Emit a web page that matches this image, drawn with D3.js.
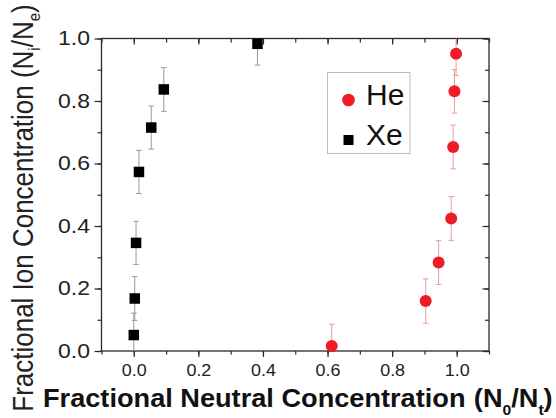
<!DOCTYPE html>
<html>
<head>
<meta charset="utf-8">
<script src="https://cdn.jsdelivr.net/npm/d3@7/dist/d3.min.js"></script>
<style>
  html, body { margin: 0; padding: 0; background: #fff; }
  svg { display: block; font-family: "Liberation Sans", Arial, sans-serif; }
</style>
</head>
<body>
<svg id="chart" width="556" height="418"></svg>
<script>
// ---- data ----
const xTickLabels = [0.0, 0.2, 0.4, 0.6, 0.8, 1.0];
const yTickLabels = [0.0, 0.2, 0.4, 0.6, 0.8, 1.0];
const xMinorTicks = [-0.1, 0.0, 0.1, 0.2, 0.3, 0.4, 0.5, 0.6, 0.7, 0.8, 0.9, 1.0, 1.1];
const yMinorTicks = [0.0, 0.1, 0.2, 0.3, 0.4, 0.5, 0.6, 0.7, 0.8, 0.9, 1.0];

const xeX   = [0.000, 0.003, 0.007, 0.016, 0.054, 0.093, 0.383];
const xeY   = [0.051, 0.168, 0.346, 0.573, 0.715, 0.837, 0.983];
const xeErr = [0.070, 0.070, 0.069, 0.069, 0.069, 0.070, 0.068];

const heX   = [0.613, 0.904, 0.944, 0.983, 0.989, 0.993, 0.998];
const heY   = [0.016, 0.160, 0.283, 0.424, 0.653, 0.831, 0.951];
const heErr = [0.070, 0.071, 0.070, 0.070, 0.070, 0.070, 0.069];

const seriesNames = ["He", "Xe"];

// ---- layout ----
const L = 101.5, R = 489, T = 38.5, B = 351;
const svg = d3.select("#chart");
const x = d3.scaleLinear().domain([-0.1, 1.1]).range([L, R]);
const y = d3.scaleLinear().domain([0, 1]).range([B, T]);

const axisColor = "#2a2a2a";

svg.append("defs").append("clipPath").attr("id", "plotclip")
  .append("rect").attr("x", L).attr("y", T).attr("width", R - L).attr("height", B - T);

function styleAxis(g) {
  g.select(".domain").remove();
  g.selectAll(".tick line").attr("stroke", axisColor).attr("stroke-width", 1.2);
}

// bottom axis
svg.append("g").attr("transform", `translate(0,${B})`)
  .call(d3.axisBottom(x).tickValues(xMinorTicks).tickSize(3.5).tickFormat(""))
  .call(styleAxis);
const xb = svg.append("g").attr("transform", `translate(0,${B})`)
  .call(d3.axisBottom(x).tickValues(xTickLabels).tickSize(6).tickPadding(8).tickFormat(d3.format(".1f")))
  .call(styleAxis);
xb.selectAll(".tick text").attr("fill", "#222").attr("font-size", 16)
  .attr("font-family", "Liberation Sans, Arial, sans-serif")
  .attr("transform", "scale(1.12,1)");

// top axis (inward)
svg.append("g").attr("transform", `translate(0,${T})`)
  .call(d3.axisTop(x).tickValues(xMinorTicks).tickSize(-4).tickFormat(""))
  .call(styleAxis);
svg.append("g").attr("transform", `translate(0,${T})`)
  .call(d3.axisTop(x).tickValues(xTickLabels).tickSize(-6).tickFormat(""))
  .call(styleAxis);

// left axis
svg.append("g").attr("transform", `translate(${L},0)`)
  .call(d3.axisLeft(y).tickValues(yMinorTicks).tickSize(4).tickFormat(""))
  .call(styleAxis);
const yl = svg.append("g").attr("transform", `translate(${L},0)`)
  .call(d3.axisLeft(y).tickValues(yTickLabels).tickSize(7).tickPadding(4).tickFormat(d3.format(".1f")))
  .call(styleAxis);
yl.selectAll(".tick text").attr("fill", "#222").attr("font-size", 20)
  .attr("font-family", "Liberation Sans, Arial, sans-serif")
  .attr("x", 0).attr("transform", "translate(-11.5,0) scale(1.15,1)");

// right axis (inward)
svg.append("g").attr("transform", `translate(${R},0)`)
  .call(d3.axisRight(y).tickValues(yMinorTicks).tickSize(-4).tickFormat(""))
  .call(styleAxis);
svg.append("g").attr("transform", `translate(${R},0)`)
  .call(d3.axisRight(y).tickValues(yTickLabels).tickSize(-6.5).tickFormat(""))
  .call(styleAxis);

// frame
svg.append("rect").attr("x", L).attr("y", T).attr("width", R - L).attr("height", B - T)
  .attr("fill", "none").attr("stroke", axisColor).attr("stroke-width", 1.3);

// ---- error bars ----
function errorBars(xs, ys, es, color) {
  const g = svg.append("g").attr("clip-path", "url(#plotclip)")
    .attr("stroke", color).attr("stroke-width", 1).attr("fill", "none");
  xs.forEach((xv, i) => {
    const cx = x(xv), y1 = y(ys[i] + es[i]), y0 = y(ys[i] - es[i]);
    g.append("line").attr("x1", cx).attr("x2", cx).attr("y1", y1).attr("y2", y0);
    g.append("line").attr("x1", cx - 2.8).attr("x2", cx + 2.8).attr("y1", y1).attr("y2", y1);
    g.append("line").attr("x1", cx - 2.8).attr("x2", cx + 2.8).attr("y1", y0).attr("y2", y0);
  });
}
errorBars(xeX, xeY, xeErr, "#9a9a9a");
errorBars(heX, heY, heErr, "#ee9a9a");

// ---- markers ----
const sq = 10.5;
svg.append("g").selectAll("rect.xe").data(xeX).join("rect")
  .attr("x", (d) => x(d) - sq / 2)
  .attr("y", (d, i) => y(xeY[i]) - sq / 2)
  .attr("width", sq).attr("height", sq).attr("fill", "#000");

svg.append("g").selectAll("circle.he").data(heX).join("circle")
  .attr("cx", (d) => x(d))
  .attr("cy", (d, i) => y(heY[i]))
  .attr("r", 6).attr("fill", "#ee1c25");

// ---- legend ----
const lg = svg.append("g");
lg.append("rect").attr("x", 327.5).attr("y", 72.5).attr("width", 82.5).attr("height", 81)
  .attr("fill", "#fff").attr("stroke", "#bdbdbd").attr("stroke-width", 1);
lg.append("circle").attr("cx", 348.5).attr("cy", 100).attr("r", 6.3).attr("fill", "#ee1c25");
lg.append("rect").attr("x", 348.5 - 5).attr("y", 140 - 5).attr("width", 10).attr("height", 10).attr("fill", "#000");
lg.append("text").attr("x", 366).attr("y", 105).attr("font-size", 30).attr("fill", "#111").text(seriesNames[0]);
lg.append("text").attr("x", 366).attr("y", 145).attr("font-size", 30).attr("fill", "#111").text(seriesNames[1]);

// ---- axis titles ----
const xt = svg.append("text").attr("transform", "translate(43,407) scale(1.045,1)")
  .attr("font-size", 26).attr("font-weight", "bold").attr("fill", "#111");
xt.append("tspan").text("Fractional Neutral Concentration");
xt.append("tspan").attr("dx", 8).text("(N");
xt.append("tspan").attr("font-size", 15).attr("dy", 8).text("0");
xt.append("tspan").attr("dy", -8).text("/N");
xt.append("tspan").attr("font-size", 15).attr("dy", 8).text("t");
xt.append("tspan").attr("dy", -8).text(")");

const yt = svg.append("text").attr("text-anchor", "middle")
  .attr("transform", "translate(33,208) scale(1.15,1) rotate(-90)")
  .attr("font-size", 26).attr("fill", "#222");
yt.append("tspan").text("Fractional Ion Concentration (N");
yt.append("tspan").attr("font-size", 15).attr("dy", 6).text("i");
yt.append("tspan").attr("dy", -6).text("/N");
yt.append("tspan").attr("font-size", 15).attr("dy", 6).text("e");
yt.append("tspan").attr("dy", -6).text(")");
</script>
</body>
</html>
